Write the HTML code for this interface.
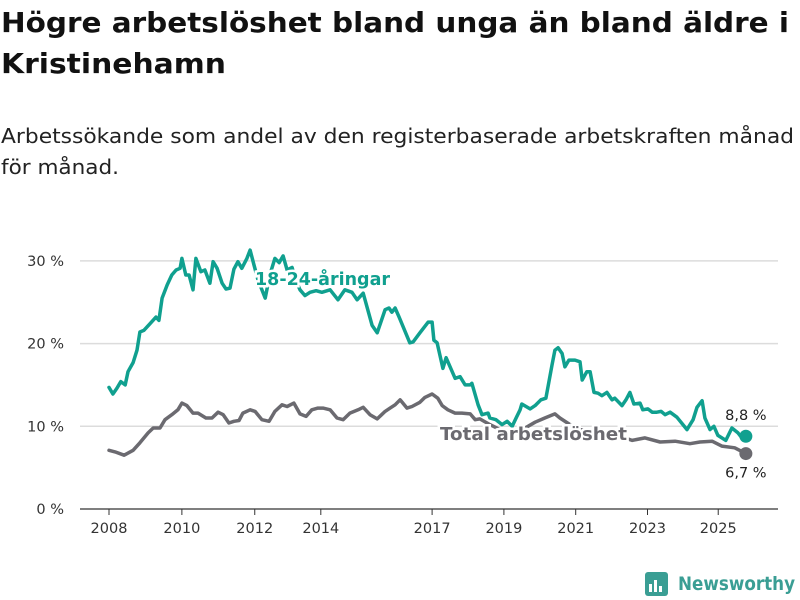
<!DOCTYPE html>
<html><head><meta charset="utf-8">
<style>
body{margin:0;background:#fff;width:800px;height:600px;overflow:hidden;font-family:"DejaVu Sans",sans-serif}
</style></head>
<body>
<svg id="chart" width="800" height="600" xmlns="http://www.w3.org/2000/svg" style="position:absolute;left:0;top:0">
<text x="1" y="32" font-size="28" font-weight="bold" fill="#111" font-family="DejaVu Sans, sans-serif" textLength="788" lengthAdjust="spacingAndGlyphs">Högre arbetslöshet bland unga än bland äldre i</text>
<text x="1" y="73" font-size="28" font-weight="bold" fill="#111" font-family="DejaVu Sans, sans-serif" textLength="225" lengthAdjust="spacingAndGlyphs">Kristinehamn</text>
<text x="1" y="143" font-size="20" fill="#222" font-family="DejaVu Sans, sans-serif" textLength="793" lengthAdjust="spacingAndGlyphs">Arbetssökande som andel av den registerbaserade arbetskraften månad</text>
<text x="1" y="174" font-size="20" fill="#222" font-family="DejaVu Sans, sans-serif" textLength="118" lengthAdjust="spacingAndGlyphs">för månad.</text>
<g id="grid"></g><g id="axes"></g><g id="series"></g><g id="labels"></g>
<g>
<rect x="645" y="572" width="23" height="24" rx="3" fill="#3a9e94"/>
<rect x="649" y="584" width="3" height="8" fill="#fff"/><rect x="654" y="580" width="3" height="12" fill="#fff"/><rect x="659" y="586" width="3" height="6" fill="#fff"/>
<text x="678" y="590" font-size="19" font-weight="bold" fill="#3a9e94" font-family="DejaVu Sans, sans-serif" textLength="117" lengthAdjust="spacingAndGlyphs">Newsworthy</text>
</g>
</svg>
<script>
const yTicks=[0,10,20,30];
const yTickLabels=["0 %","10 %","20 %","30 %"];
const xTickPos=[2008,2010.03,2012.06,2013.9,2017,2019,2021,2023,2024.97];
const xTickLabels=["2008","2010","2012","2014","2017","2019","2021","2023","2025"];
const youthT=[2008.0,2008.11,2008.22,2008.33,2008.45,2008.53,2008.67,2008.78,2008.86,2008.97,2009.14,2009.31,2009.39,2009.48,2009.62,2009.75,2009.87,2009.98,2010.03,2010.14,2010.23,2010.34,2010.42,2010.56,2010.67,2010.81,2010.90,2011.01,2011.15,2011.26,2011.37,2011.48,2011.59,2011.70,2011.84,2011.93,2012.04,2012.15,2012.35,2012.48,2012.62,2012.74,2012.85,2012.96,2013.10,2013.18,2013.32,2013.46,2013.60,2013.77,2013.93,2014.16,2014.38,2014.57,2014.77,2014.91,2015.08,2015.33,2015.47,2015.69,2015.80,2015.88,2015.97,2016.08,2016.38,2016.47,2016.66,2016.89,2017.0,2017.05,2017.14,2017.30,2017.39,2017.64,2017.78,2017.92,2018.06,2018.11,2018.28,2018.39,2018.56,2018.61,2018.78,2018.95,2019.09,2019.23,2019.34,2019.45,2019.50,2019.73,2019.87,2020.03,2020.17,2020.34,2020.42,2020.51,2020.62,2020.70,2020.81,2020.98,2021.12,2021.18,2021.31,2021.40,2021.51,2021.62,2021.73,2021.87,2022.01,2022.09,2022.29,2022.40,2022.51,2022.62,2022.79,2022.87,2023.01,2023.13,2023.26,2023.38,2023.49,2023.63,2023.82,2024.10,2024.27,2024.38,2024.52,2024.60,2024.74,2024.85,2024.96,2025.18,2025.35,2025.52,2025.63,2025.74];
const youthV=[14.7,13.9,14.6,15.4,15.0,16.6,17.7,19.2,21.4,21.6,22.4,23.2,22.8,25.5,27.1,28.3,28.9,29.1,30.3,28.3,28.3,26.5,30.3,28.7,28.9,27.3,29.9,29.1,27.3,26.6,26.7,29.0,29.9,29.1,30.3,31.3,29.5,27.7,25.5,28.3,30.3,29.8,30.6,28.9,29.2,27.9,26.5,25.8,26.2,26.4,26.2,26.5,25.3,26.5,26.2,25.3,26.1,22.2,21.3,24.1,24.3,23.8,24.3,23.2,20.1,20.2,21.3,22.6,22.6,20.4,20.1,17.0,18.3,15.8,16.0,15.0,15.0,15.2,12.6,11.4,11.6,11.0,10.8,10.2,10.6,10.0,11.0,12.0,12.7,12.1,12.5,13.2,13.4,17.4,19.2,19.5,18.8,17.2,18.0,18.0,17.8,15.6,16.6,16.6,14.1,14.0,13.7,14.1,13.2,13.4,12.5,13.2,14.1,12.7,12.8,12.0,12.1,11.7,11.7,11.8,11.4,11.7,11.1,9.6,10.8,12.3,13.1,11.0,9.6,10.0,8.9,8.3,9.8,9.2,8.6,8.8];
const totalT=[2008.0,2008.17,2008.42,2008.67,2008.86,2009.09,2009.23,2009.42,2009.56,2009.75,2009.92,2010.03,2010.17,2010.34,2010.48,2010.70,2010.87,2011.04,2011.18,2011.34,2011.48,2011.62,2011.73,2011.93,2012.07,2012.26,2012.46,2012.62,2012.82,2012.96,2013.15,2013.32,2013.49,2013.65,2013.82,2013.96,2014.16,2014.35,2014.52,2014.71,2014.94,2015.08,2015.27,2015.47,2015.69,2015.83,2015.97,2016.11,2016.30,2016.44,2016.66,2016.80,2017.0,2017.16,2017.28,2017.44,2017.64,2017.83,2018.06,2018.20,2018.33,2018.61,2018.89,2019.23,2019.59,2019.87,2020.14,2020.42,2020.56,2020.84,2021.12,2021.68,2022.23,2022.57,2022.93,2023.35,2023.77,2024.18,2024.46,2024.80,2025.07,2025.43,2025.74];
const totalV=[7.1,6.9,6.5,7.1,8.0,9.2,9.8,9.8,10.8,11.4,12.0,12.8,12.5,11.6,11.6,11.0,11.0,11.7,11.4,10.4,10.6,10.7,11.6,12.0,11.8,10.8,10.6,11.8,12.6,12.4,12.8,11.5,11.2,12.0,12.2,12.2,12.0,11.0,10.8,11.6,12.0,12.3,11.4,10.9,11.8,12.2,12.6,13.2,12.2,12.4,12.9,13.5,13.9,13.4,12.5,12.0,11.6,11.6,11.5,10.8,10.9,10.2,9.6,8.9,9.8,10.5,11.0,11.5,11.0,10.2,9.6,9.3,8.8,8.3,8.6,8.1,8.2,7.9,8.1,8.2,7.6,7.4,6.7];
const youthLabel="8,8 %", totalLabel="6,7 %";

const NS="http://www.w3.org/2000/svg";
const X=t=>109+(t-2008)*35.9;
const Y=v=>509-v*8.27;
function mk(tag,attrs,parent,text){const e=document.createElementNS(NS,tag);for(const k in attrs)e.setAttribute(k,attrs[k]);if(text!=null)e.textContent=text;document.getElementById(parent).appendChild(e);return e;}
const F='DejaVu Sans, sans-serif';
yTicks.forEach((v,i)=>{
  const l=mk('line',{x1:80,x2:778,y1:Y(v),y2:Y(v),stroke:v===0?'#333':'#dcdcdc','stroke-width':v===0?1.2:1.5},'grid');
  
  
  const t=mk('text',{x:64,y:Y(v)+5,'text-anchor':'end','font-size':14.5,fill:'#333','font-family':F},'axes',yTickLabels[i]);
  
  
});
xTickPos.forEach((p,i)=>{
  const tk=mk('line',{x1:X(p),x2:X(p),y1:509,y2:515,stroke:'#333','stroke-width':1},'axes');
  
  
  const t=mk('text',{x:X(p),y:533,'text-anchor':'middle','font-size':14.5,fill:'#333','font-family':F},'axes',xTickLabels[i]);
  
  
});
function line(T,V,color,name){
  const d=T.map((t,i)=>(i?'L':'M')+X(t).toFixed(1)+','+Y(V[i]).toFixed(1)).join('');
  const p=mk('path',{d:d,fill:'none',stroke:color,'stroke-width':3.5,'stroke-linejoin':'round','stroke-linecap':'round'},'series');
  
  
  const n=T.length-1;
  const c=mk('circle',{cx:X(T[n]),cy:Y(V[n]),r:6.5,fill:color},'series');
  
  
}
line(totalT,totalV,'#6b6a70','total-line');
line(youthT,youthV,'#10a08f','youth-line');
const ny=youthT.length-1, nt=totalT.length-1;
const l1=mk('text',{x:X(youthT[ny]),y:Y(youthV[ny])-16,'text-anchor':'middle','font-size':14.5,fill:'#222','font-family':F},'labels',youthLabel);


const l2=mk('text',{x:X(totalT[nt]),y:Y(totalV[nt])+24,'text-anchor':'middle','font-size':14.5,fill:'#222','font-family':F},'labels',totalLabel);


const s1=mk('text',{x:255,y:285,'font-size':18,'font-weight':'bold',fill:'#10a08f',stroke:'#fff','stroke-width':5,'paint-order':'stroke','font-family':F,textLength:135,lengthAdjust:'spacingAndGlyphs'},'labels','18-24-åringar');


const s2=mk('text',{x:440,y:440,'font-size':18,'font-weight':'bold',fill:'#6b6a70',stroke:'#fff','stroke-width':5,'paint-order':'stroke','font-family':F,textLength:187,lengthAdjust:'spacingAndGlyphs'},'labels','Total arbetslöshet');


</script>
</body></html>
